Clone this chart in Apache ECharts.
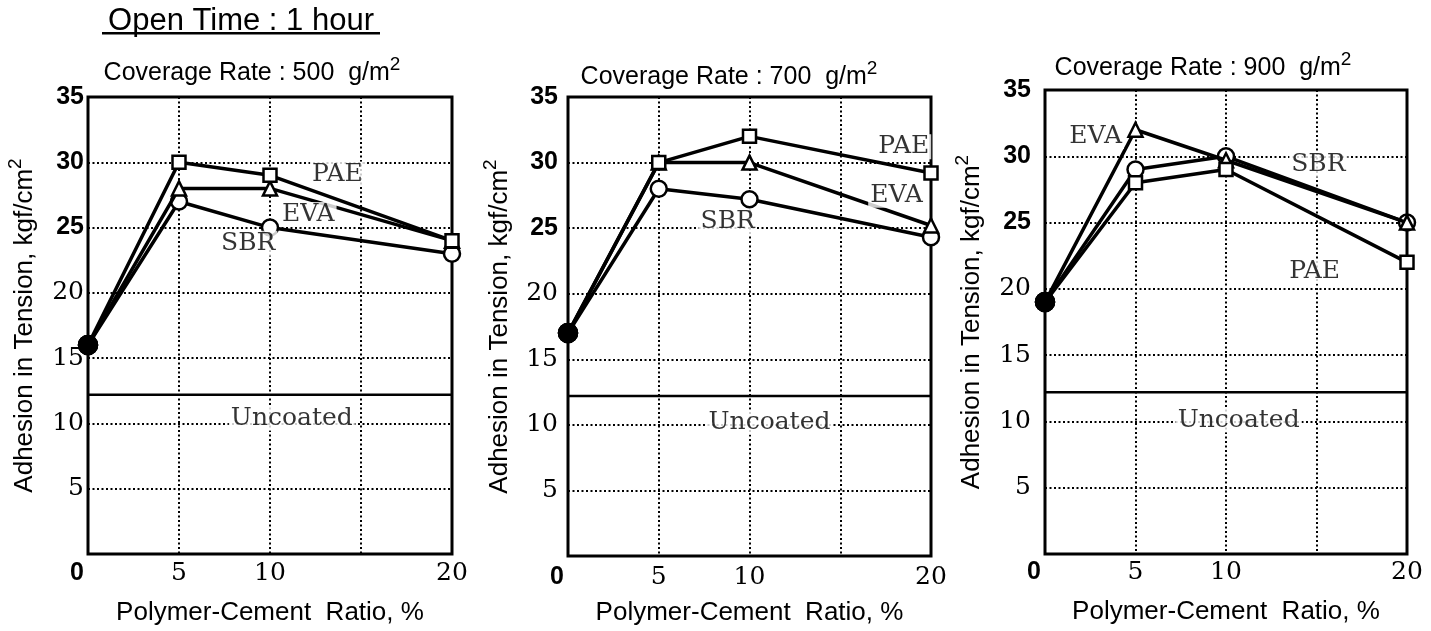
<!DOCTYPE html>
<html><head><meta charset="utf-8">
<script src="https://cdn.jsdelivr.net/npm/echarts@6/dist/echarts.min.js"></script>
<style>html,body{margin:0;padding:0;background:#fff}#c{width:1431px;height:631px}</style>
</head><body><div id="c"></div>
<script>
// ---------- data ----------
const xValues = [0, 5, 10, 20];
const xTickValues = [0, 5, 10, 15, 20];
const xTickLabels = ['0', '5', '10', '', '20'];
const yTickValues = [0, 5, 10, 15, 20, 25, 30, 35];
const yTickLabels = ['', '5', '10', '15', '20', '25', '30', '35'];
const mainTitle = 'Open Time : 1 hour';
const panelTitles = ['Coverage Rate : 500  g/m', 'Coverage Rate : 700  g/m', 'Coverage Rate : 900  g/m'];
const xAxisTitle = 'Polymer-Cement  Ratio, %';
const yAxisTitle = 'Adhesion in Tension, kgf/cm';
const seriesNames = ['PAE', 'EVA', 'SBR'];

const pae500 = [16, 30, 29, 24];
const eva500 = [16, 28, 28, 24];
const sbr500 = [16, 27, 25, 23];
const pae700 = [17, 30, 32, 29.2];
const eva700 = [17, 30, 30, 25.2];
const sbr700 = [17, 28, 27.2, 24.3];
const pae900 = [19, 28, 29, 22];
const eva900 = [19, 32, 29.7, 25];
const sbr900 = [19, 29, 30, 25];
const uncoated = [12.2, 12.2, 12.2];

// annotation text anchors (data units)
const notes500 = [['PAE', 13.7, 29.1], ['EVA', 12.1, 26.0], ['SBR', 8.8, 23.8], ['Uncoated', 11.2, 10.4]];
const notes700 = [['PAE', 18.5, 31.2], ['EVA', 18.1, 27.5], ['SBR', 8.8, 25.5], ['Uncoated', 11.1, 10.2]];
const notes900 = [['EVA', 2.8, 31.5], ['SBR', 15.1, 29.4], ['PAE', 14.9, 21.3], ['Uncoated', 10.7, 10.1]];

// ---------- layout / style ----------
const SANS = '"Liberation Sans", Arial, sans-serif';
const SERIF = '"DejaVu Serif", serif';
const panels = [
  {grid: {left: 88, top: 97, width: 364, height: 460}, series: [pae500, eva500, sbr500], notes: notes500, uncoated: uncoated[0],
   ylm: 4, xlm: 7, ng: 50, xng: 46, title: [252, 61]},
  {grid: {left: 568, top: 97, width: 363, height: 461}, series: [pae700, eva700, sbr700], notes: notes700, uncoated: uncoated[1],
   ylm: 10, xlm: 9, ng: 55, xng: 44, title: [729, 65]},
  {grid: {left: 1045, top: 90, width: 362, height: 464}, series: [pae900, eva900, sbr900], notes: notes900, uncoated: uncoated[2],
   ylm: 14, xlm: 6, ng: 60, xng: 45, title: [1203, 56]}
];
const symbols = {PAE: ['rect', 13], EVA: ['triangle', 14], SBR: ['circle', 16]};
const supRich = {
  a: {fontFamily: SANS, fontSize: 26, lineHeight: 26, color: '#000', verticalAlign: 'bottom'},
  s: {fontFamily: SANS, fontSize: 19, lineHeight: 19, color: '#000', padding: [0, 0, 13, 0], verticalAlign: 'bottom'}
};
const titleRich = {
  a: {fontFamily: SANS, fontSize: 25, lineHeight: 25, color: '#000', verticalAlign: 'bottom'},
  s: {fontFamily: SANS, fontSize: 19, lineHeight: 19, color: '#000', padding: [0, 0, 12, 0], verticalAlign: 'bottom'}
};

const grids = [], xAxes = [], yAxes = [], series = [], graphics = [];
const dotted = {color: '#000', width: 2, type: [2, 2.5]};

panels.forEach((p, i) => {
  grids.push(Object.assign({show: true, borderColor: '#000', borderWidth: 3, backgroundColor: 'transparent'}, p.grid));
  xAxes.push({
    type: 'value', gridIndex: i, min: 0, max: 20, interval: 5,
    axisLine: {show: false}, axisTick: {show: false},
    splitLine: {show: true, lineStyle: dotted},
    axisLabel: {
      margin: p.xlm,
      formatter: v => {
        const t = xTickLabels[xTickValues.indexOf(v)];
        if (!t) return '';
        return v === 0 ? '{z|' + t + '}' : '{r|' + t + '}';
      },
      rich: {
        z: {fontFamily: SANS, fontWeight: 'bold', fontSize: 25, color: '#000', padding: [0, 22, 0, 0]},
        r: {fontFamily: SERIF, fontSize: 25, color: '#000'}
      }
    },
    name: xAxisTitle, nameLocation: 'middle', nameGap: p.xng,
    nameTextStyle: {fontFamily: SANS, fontSize: 26, color: '#000'}
  });
  yAxes.push({
    type: 'value', gridIndex: i, min: 0, max: 35, interval: 5,
    axisLine: {show: false}, axisTick: {show: false},
    splitLine: {show: true, lineStyle: dotted},
    axisLabel: {
      margin: p.ylm,
      formatter: v => {
        const t = yTickLabels[yTickValues.indexOf(v)];
        if (!t) return '';
        return v >= 25 ? '{s|' + t + '}' : '{r|' + t + '}';
      },
      rich: {
        s: {fontFamily: SANS, fontWeight: 'bold', fontSize: 25, color: '#000'},
        r: {fontFamily: SERIF, fontSize: 25, color: '#000'}
      }
    },
    name: '{a|' + yAxisTitle + '}{s|2}', nameLocation: 'middle', nameGap: p.ng, nameRotate: 90,
    nameTextStyle: {rich: supRich}
  });
  seriesNames.forEach((nm, k) => {
    const vals = p.series[k];
    series.push({
      type: 'line', name: nm, xAxisIndex: i, yAxisIndex: i, clip: false, z: 5 - k,
      symbol: symbols[nm][0], symbolSize: symbols[nm][1],
      lineStyle: {color: '#000', width: 3.5},
      itemStyle: {color: '#fff', borderColor: '#000', borderWidth: 2.5},
      data: xValues.map((x, j) => j === 0
        ? {value: [x, vals[j]], symbol: 'circle', symbolSize: 18, itemStyle: {color: '#000', borderColor: '#000'}}
        : [x, vals[j]])
    });
  });
  // uncoated reference line
  series.push({
    type: 'line', name: 'Uncoated', xAxisIndex: i, yAxisIndex: i, symbol: 'none', z: 2,
    lineStyle: {color: '#000', width: 2.5},
    data: [[0, p.uncoated], [20, p.uncoated]]
  });
  // annotations
  series.push({
    type: 'scatter', xAxisIndex: i, yAxisIndex: i, symbolSize: 0, z: 8, silent: true,
    data: p.notes.map(n => ({name: n[0], value: [n[1], n[2]]})),
    label: {show: true, position: 'inside', formatter: d => d.name,
      fontFamily: SERIF, fontSize: 25, color: '#000', backgroundColor: '#fff', padding: [0, 2]}
  });
  graphics.push({
    type: 'text', x: p.title[0], y: p.title[1],
    style: {text: '{a|' + panelTitles[i] + '}{s|2}', rich: titleRich, align: 'center', textAlign: 'center', verticalAlign: 'top', textVerticalAlign: 'top'}
  });
});

graphics.push({
  type: 'text', x: 241, y: 6,
  style: {text: mainTitle, fontFamily: SANS, fontSize: 31, fill: '#000', align: 'center', textAlign: 'center', verticalAlign: 'top', textVerticalAlign: 'top'}
});
graphics.push({type: 'rect', shape: {x: 102, y: 32, width: 278, height: 2.5}, style: {fill: '#000'}});

const chart = echarts.init(document.getElementById('c'), null, {renderer: 'canvas'});
chart.setOption({
  backgroundColor: '#fff',
  animation: false,
  grid: grids, xAxis: xAxes, yAxis: yAxes, series: series, graphic: graphics
});
</script></body></html>
